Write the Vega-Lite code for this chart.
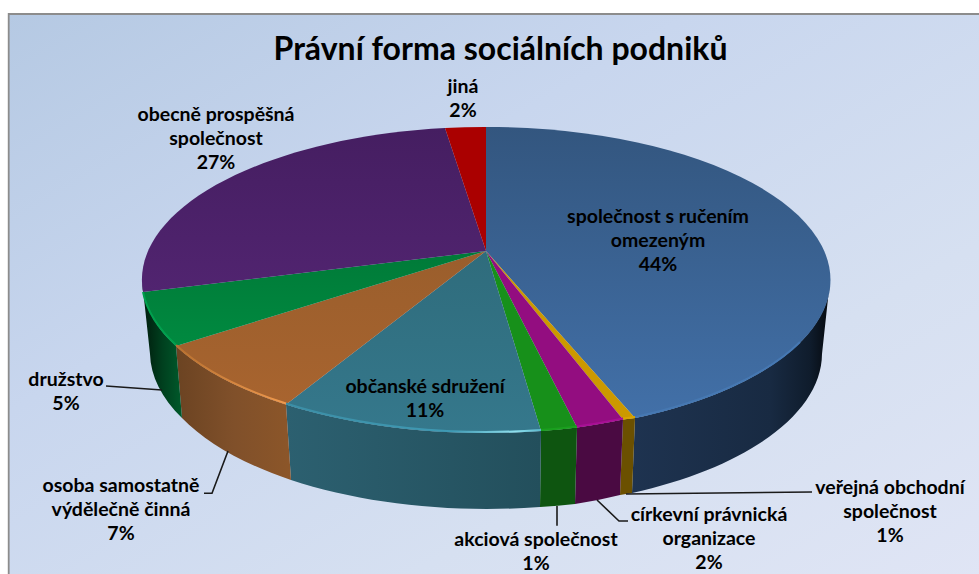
{
"$schema":"https://vega.github.io/schema/vega-lite/v6.json",
"width":979,"height":574,"padding":0,"autosize":{"type":"none"},"background":"white",
"config":{"view":{"stroke":null}},
"title":{"text":"Právní forma sociálních podniků","font":"Lato","fontSize":32,"fontWeight":"bold","color":"#000000","anchor":"middle","dx":11,"offset":-67},
"data":{"values":[
{"slice":"společnost s ručením omezeným","value":44,"order":0,"label":"společnost s ručením\nomezeným\n44%"},
{"slice":"veřejná obchodní společnost","value":1,"order":1,"label":"veřejná obchodní\nspolečnost\n1%"},
{"slice":"církevní právnická organizace","value":2,"order":2,"label":"církevní právnická\norganizace\n2%"},
{"slice":"akciová společnost","value":1,"order":3,"label":"akciová společnost\n1%"},
{"slice":"občanské sdružení","value":11,"order":4,"label":"občanské sdružení\n11%"},
{"slice":"osoba samostatně výdělečně činná","value":7,"order":5,"label":"osoba samostatně\nvýdělečně činná\n7%"},
{"slice":"družstvo","value":5,"order":6,"label":"družstvo\n5%"},
{"slice":"obecně prospěšná společnost","value":27,"order":7,"label":"obecně prospěšná\nspolečnost\n27%"},
{"slice":"jiná","value":2,"order":8,"label":"jiná\n2%"}
]},
"resolve":{"scale":{"shape":"independent","x":"independent","y":"independent"}},
"layer":[
{"data":{"values":[{"part":"frame"}]},
 "mark":{"type":"point","filled":true,"opacity":1,"size":4,"shape":"M-480.8,-273 H495 V295 H-480.8 Z","stroke":"#8c8c8c","strokeWidth":1.8,
 "fill":{"gradient":"linear","x1":0,"y1":0,"x2":1,"y2":1,"stops":[{"offset":0,"color":"#b5c9e3"},{"offset":0.35,"color":"#c8d6ee"},{"offset":0.7,"color":"#d6e0f1"},{"offset":1,"color":"#e0e5f5"}]}},
 "encoding":{}},
{"transform":[{"filter":"datum.order<=6"}],
 "mark":{"type":"point","filled":true,"opacity":1,"size":4},
 "encoding":{
  "shape":{"field":"order","type":"nominal","legend":null,"scale":{"domain":[0,1,2,3,4,5,6],"range":[
   "M145.5,131 A344,153 0 0 0 340.5,-7 L332.5,67 A336,155 0 0 1 142.5,206 Z",
   "M145.5,131 A344,153 0 0 1 133.5,132.5 L130.5,208 A336,155 0 0 0 142.5,206 Z",
   "M133.5,132.5 A344,153 0 0 1 87.5,140.5 L85.5,217 A336,155 0 0 0 130.5,208 Z",
   "M87.5,140.5 A344,153 0 0 1 51.5,144 L50.5,220 A336,155 0 0 0 85.5,217 Z",
   "M51.5,144 A344,153 0 0 1 -203.5,117.5 L-198.5,193 A336,155 0 0 0 50.5,220 Z",
   "M-203.5,117.5 A344,153 0 0 1 -313.5,59 L-307.5,131 A336,155 0 0 0 -198.5,193 Z",
   "M-313.5,59 A344,153 0 0 1 -347.5,-7 L-339.5,67 A336,155 0 0 0 -307.5,131 Z"
  ]}},
  "fill":{"condition":[
   {"test":"datum.order==0","value":{"gradient":"linear","x1":0,"y1":0,"x2":1,"y2":0,"stops":[{"offset":0,"color":"#1e3350"},{"offset":0.7,"color":"#182a42"},{"offset":0.9,"color":"#0f1c2c"},{"offset":1,"color":"#05090e"}]}},
   {"test":"datum.order==1","value":"#6b5000"},
   {"test":"datum.order==2","value":"#4a0a42"},
   {"test":"datum.order==3","value":"#0e5510"},
   {"test":"datum.order==4","value":{"gradient":"linear","x1":0,"y1":0,"x2":1,"y2":0,"stops":[{"offset":0,"color":"#2c6070"},{"offset":1,"color":"#234f5c"}]}},
   {"test":"datum.order==5","value":{"gradient":"linear","x1":0,"y1":0,"x2":1,"y2":0,"stops":[{"offset":0,"color":"#6b4322"},{"offset":0.5,"color":"#80502a"},{"offset":1,"color":"#8c5629"}]}}
  ],"value":{"gradient":"linear","x1":0,"y1":0,"x2":1,"y2":0,"stops":[{"offset":0,"color":"#001a0c"},{"offset":0.5,"color":"#003f1e"},{"offset":1,"color":"#005a2b"}]}}
 }},
{"mark":{"type":"point","filled":true,"opacity":1,"size":4},
 "encoding":{
  "shape":{"field":"order","type":"nominal","legend":null,"scale":{"domain":[0,1,2,3,4,5,6,7,8],"range":[
   "M-3.5,-36 L-3.5,-160 A344,153 0 0 1 145.5,131 Z",
   "M-3.5,-36 L145.5,131 A344,153 0 0 1 133.5,132.5 Z",
   "M-3.5,-36 L133.5,132.5 A344,153 0 0 1 87.5,140.5 Z",
   "M-3.5,-36 L87.5,140.5 A344,153 0 0 1 51.5,144 Z",
   "M-3.5,-36 L51.5,144 A344,153 0 0 1 -203.5,117.5 Z",
   "M-3.5,-36 L-203.5,117.5 A344,153 0 0 1 -313.5,59 Z",
   "M-3.5,-36 L-313.5,59 A344,153 0 0 1 -346.5,5 Z",
   "M-3.5,-36 L-346.5,5 A344,153 0 0 1 -44.5,-159 Z",
   "M-3.5,-36 L-44.5,-159 A344,153 0 0 1 -3.5,-160 Z"
  ]}},
  "fill":{"condition":[
   {"test":"datum.order==0","value":{"gradient":"linear","x1":0,"y1":0,"x2":0,"y2":1,"stops":[{"offset":0,"color":"#33567f"},{"offset":1,"color":"#4270a8"}]}},
   {"test":"datum.order==1","value":"#cc9900"},
   {"test":"datum.order==2","value":"#930d80"},
   {"test":"datum.order==3","value":"#17901a"},
   {"test":"datum.order==4","value":{"gradient":"linear","x1":0,"y1":0,"x2":0,"y2":1,"stops":[{"offset":0,"color":"#2f6c7c"},{"offset":1,"color":"#35788c"}]}},
   {"test":"datum.order==5","value":{"gradient":"linear","x1":0,"y1":0,"x2":0,"y2":1,"stops":[{"offset":0,"color":"#9a5e2c"},{"offset":1,"color":"#a8642f"}]}},
   {"test":"datum.order==6","value":{"gradient":"linear","x1":0,"y1":0,"x2":0,"y2":1,"stops":[{"offset":0,"color":"#007a38"},{"offset":1,"color":"#008a40"}]}},
   {"test":"datum.order==7","value":{"gradient":"linear","x1":0,"y1":0,"x2":0,"y2":1,"stops":[{"offset":0,"color":"#451e61"},{"offset":1,"color":"#512470"}]}}
  ],"value":"#aa0000"}
 }},
{"transform":[{"filter":"datum.order<=6"}],
 "mark":{"type":"point","filled":false,"opacity":1,"size":4,"strokeWidth":2,"fill":null},
 "encoding":{
  "shape":{"field":"order","type":"nominal","legend":null,"scale":{"domain":[0,1,2,3,4,5,6],"range":[
   "M145.5,130 A344,153 0 0 0 310.5,55",
   "M145.5,130 A344,153 0 0 1 133.5,131.5",
   "M133.5,131.5 A344,153 0 0 1 87.5,139.5",
   "M87.5,139.5 A344,153 0 0 1 51.5,143",
   "M51.5,143 A344,153 0 0 1 -203.5,116.5",
   "M-203.5,116.5 A344,153 0 0 1 -313.5,58",
   "M-313.5,58 A344,153 0 0 1 -346.5,5"
  ]}},
  "stroke":{"condition":[
   {"test":"datum.order==0","value":"#4678b2"},
   {"test":"datum.order==1","value":"#d9a400"},
   {"test":"datum.order==2","value":"#a80f94"},
   {"test":"datum.order==3","value":"#1aa01e"},
   {"test":"datum.order==4","value":{"gradient":"linear","x1":0,"y1":0,"x2":1,"y2":0,"stops":[{"offset":0,"color":"#3b8ea6"},{"offset":0.65,"color":"#3f9ab4"},{"offset":0.9,"color":"#8fe0ee"},{"offset":1,"color":"#5ab8cc"}]}},
   {"test":"datum.order==5","value":{"gradient":"linear","x1":0,"y1":0,"x2":1,"y2":0,"stops":[{"offset":0,"color":"#b8702f"},{"offset":1,"color":"#f09a4e"}]}}
  ],"value":"#00a04e"}
 }},
{"data":{"values":[{"leader":0},{"leader":1},{"leader":2},{"leader":3},{"leader":4}]},
 "mark":{"type":"point","filled":false,"opacity":1,"size":4,"strokeWidth":1.6,"stroke":"#1a1a1a","fill":null},
 "encoding":{"shape":{"field":"leader","type":"nominal","legend":null,"scale":{"domain":[0,1,2,3,4],"range":[
  "M-383.5,99 L-327.5,103",
  "M-285.5,206.3 L-277.5,206.3 L-261.5,164",
  "M67.5,219 L67.5,238.7",
  "M107.5,213 L129.5,234 L138.5,234",
  "M136.5,207 L322.5,205"
 ]}}}},
{"mark":{"type":"text","font":"Lato","fontWeight":"bold","fontSize":19.5,"color":"#000000","align":"center","baseline":"alphabetic","lineBreak":"\n","lineHeight":24},
 "encoding":{
  "text":{"field":"label"},
  "x":{"field":"order","type":"quantitative","axis":null,"scale":{"zero":false,"nice":false,"domain":[0,1,2,3,4,5,6,7,8],"range":[658,890,709,536,425,121,66,216,463]}},
  "y":{"field":"order","type":"quantitative","axis":null,"scale":{"zero":false,"nice":false,"domain":[0,1,2,3,4,5,6,7,8],"range":[223,494,521,546,393,492,386,121,93]}}
 }}
]
}
